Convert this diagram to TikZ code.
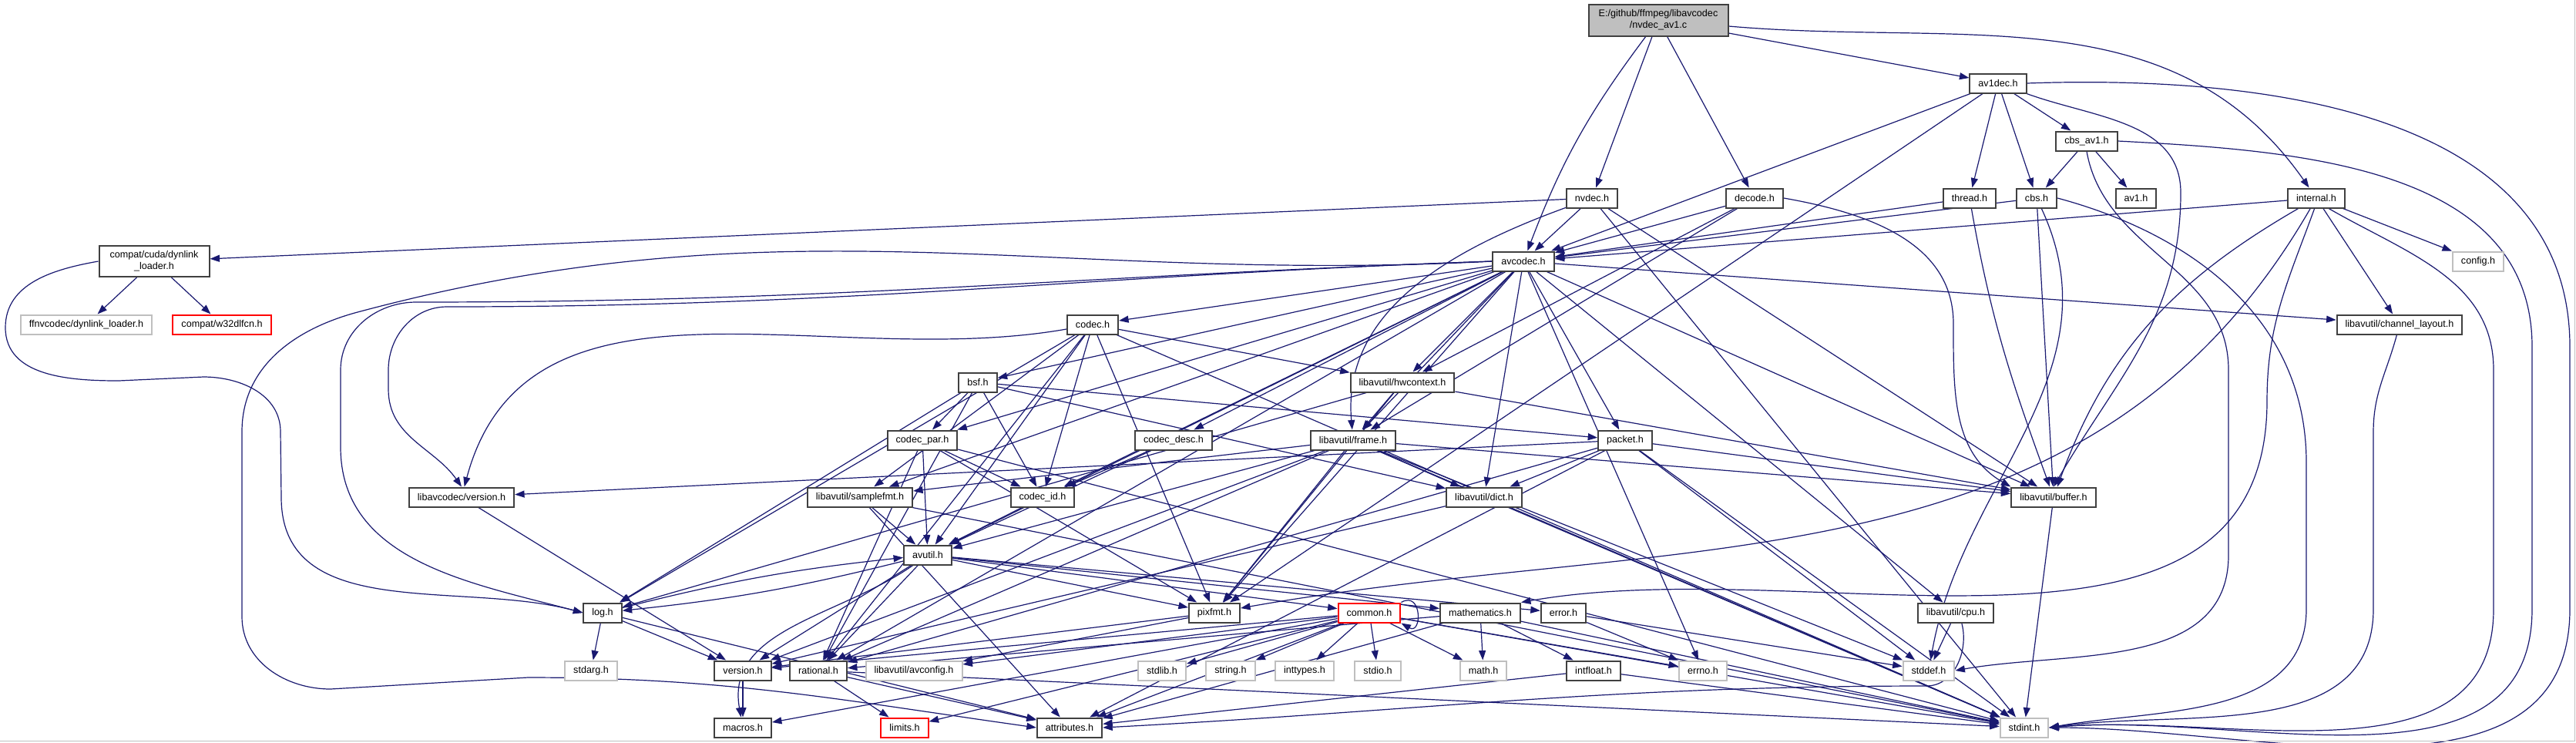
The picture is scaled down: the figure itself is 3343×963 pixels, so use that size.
\documentclass[tikz,border=0pt]{standalone}
\usepackage{fontspec}
\setmainfont{Liberation Sans}
\usetikzlibrary{arrows.meta}
\definecolor{edgeblue}{HTML}{191970}
\definecolor{nodegray}{HTML}{BFBFBF}
\definecolor{nodeframe}{HTML}{404040}
\pgfdeclarelayer{edgelayer}
\pgfsetlayers{edgelayer,main}
\tikzset{
    incfile/.style={rectangle,draw=nodeframe,line width=0.4pt,fill=white,align=center,minimum height=5pt,inner xsep=2.2pt,inner ysep=0pt,font=\fontsize{2.52}{3}\selectfont},
    sysfile/.style={incfile,draw=nodegray},
    redfile/.style={incfile,draw=red},
    srcfile/.style={incfile,fill=nodegray,minimum height=8.2pt},
    incline/.style={-{Triangle[length=2.5pt,width=1.8pt]},color=edgeblue,line width=0.24pt}
}
\begin{document}
\begin{tikzpicture}[x=0.2pt,y=-0.2pt]
    \useasboundingbox (0,0) rectangle (3343,963);
    \draw[nodegray,line width=0.3pt] (0,961.5) -- (3341.5,961.5) -- (3341.5,0);
    % top part
    \node[srcfile,minimum width=36.2pt] (main) at (2152,26) {E:/github/ffmpeg/libavcodec\\/nvdec\_av1.c};
    \node[incfile] (av1dec) at (2593,108) {av1dec.h};
    \node[incfile] (cbsav1) at (2708,183) {cbs\_av1.h};
    \node[incfile] (nvdec) at (2066,257) {nvdec.h};
    \node[incfile] (decode) at (2277,257) {decode.h};
    \node[incfile] (thread) at (2556,257) {thread.h};
    \node[incfile] (cbs) at (2643,257) {cbs.h};
    \node[incfile] (avone) at (2772,257) {av1.h};
    \node[incfile] (internal) at (3006,257) {internal.h};
    \node[incfile,minimum width=28.6pt,minimum height=8pt] (dynlink) at (200,339) {compat/cuda/dynlink\\\_loader.h};
    \node[incfile] (avcodec) at (1977,339) {avcodec.h};
    \node[sysfile] (config) at (3216,339) {config.h};
    \node[sysfile] (ffnv) at (112,421) {ffnvcodec/dynlink\_loader.h};
    \node[redfile] (w32) at (288,421) {compat/w32dlfcn.h};
    \node[incfile] (codec) at (1418,421) {codec.h};
    \node[incfile] (chlayout) at (3114,421) {libavutil/channel\_layout.h};
    % middle part
    \node[incfile] (bsf) at (1269,496) {bsf.h};
    \node[incfile] (hwctx) at (1820,496) {libavutil/hwcontext.h};
    \node[incfile] (codecpar) at (1197,571) {codec\_par.h};
    \node[incfile] (codecdesc) at (1523,571) {codec\_desc.h};
    \node[incfile] (frame) at (1756,571) {libavutil/frame.h};
    \node[incfile] (packet) at (2109,571) {packet.h};
    \node[incfile] (lavcversion) at (599,645) {libavcodec/version.h};
    \node[incfile] (samplefmt) at (1116,645) {libavutil/samplefmt.h};
    \node[incfile] (codecid) at (1353,645) {codec\_id.h};
    \node[incfile] (dict) at (1926,645) {libavutil/dict.h};
    \node[incfile] (buffer) at (2665,645) {libavutil/buffer.h};
    \node[incfile] (avutil) at (1204,720) {avutil.h};
    \node[incfile] (log) at (782,795) {log.h};
    \node[incfile] (pixfmt) at (1576,795) {pixfmt.h};
    \node[redfile] (common) at (1777,795) {common.h};
    \node[incfile] (mathematics) at (1921,795) {mathematics.h};
    \node[incfile] (error) at (2029,795) {error.h};
    \node[incfile] (cpu) at (2538,795) {libavutil/cpu.h};
    % bottom part
    \node[sysfile] (stdarg) at (767,870) {stdarg.h};
    \node[incfile] (version) at (964,870) {version.h};
    \node[incfile] (rational) at (1062,870) {rational.h};
    \node[sysfile] (avconfig) at (1186,870) {libavutil/avconfig.h};
    \node[sysfile] (stdlib) at (1508,870) {stdlib.h};
    \node[sysfile] (string) at (1597,870) {string.h};
    \node[sysfile] (inttypes) at (1693,870) {inttypes.h};
    \node[sysfile] (stdio) at (1788,870) {stdio.h};
    \node[sysfile] (math) at (1925,870) {math.h};
    \node[incfile] (intfloat) at (2068,870) {intfloat.h};
    \node[sysfile] (errno) at (2210,870) {errno.h};
    \node[sysfile] (stddef) at (2503,870) {stddef.h};
    \node[incfile] (macros) at (964,944) {macros.h};
    \node[redfile] (limits) at (1174,944) {limits.h};
    \node[incfile] (attributes) at (1388,944) {attributes.h};
    \node[sysfile] (stdint) at (2627,944) {stdint.h};

    \begin{pgfonlayer}{edgelayer}
    % includes of the top files
    \path[incline] (main) edge[bend right=8] (avcodec) edge (nvdec) edge (decode) edge (av1dec) edge[out=-5,in=125] (internal);
    \path[incline] (av1dec) edge (avcodec) edge (pixfmt) edge (thread) edge (cbs) edge (cbsav1);
    \draw[incline] (av1dec.-20) to[out=-20,in=90] (2830,250) to[out=-90,in=60] (buffer.north);
    \draw[incline] (av1dec.east) to[out=2,in=90] (3335,450) -- (3335,790) to[out=-90,in=0] (stdint.east);
    \path[incline] (cbsav1) edge (cbs) edge (avone);
    \draw[incline] (cbsav1.south) to[out=-80,in=90] (2892,480) -- (2892,720) to[out=-90,in=10] (stddef.east);
    \draw[incline] (cbsav1.east) to[out=-3,in=90] (3286,450) -- (3286,790) to[out=-90,in=5] (stdint.east);
    \path[incline] (cbs) edge (avcodec) edge (buffer) edge[out=-65,in=80] (stddef);
    \draw[incline] (cbs.east) to[out=-15,in=90] (2993,600) -- (2993,790) to[out=-90,in=10] (stdint.east);
    \path[incline] (thread) edge (avcodec) edge[out=-80,in=110] (buffer);
    \path[incline] (decode) edge (avcodec) edge (frame) edge (hwctx);
    \draw[incline] (decode.east) to[out=-10,in=90] (2535,420) to[out=-90,in=150] (buffer.north west);
    \path[incline] (nvdec) edge (dynlink) edge (avcodec) edge[out=200,in=95] (frame) edge (buffer) edge (stdint);
    \path[incline] (internal) edge (avcodec) edge (config) edge (chlayout) edge[out=-150,in=70] (buffer) edge[out=-120,in=10] (pixfmt);
    \draw[incline] (internal.-100) to[out=-110,in=90] (2942,520) to[out=-90,in=10] (mathematics.north east);
    \draw[incline] (internal.-40) to[out=-30,in=90] (3236,480) -- (3236,790) to[out=-90,in=5] (stdint.east);
    \path[incline] (dynlink) edge (ffnv) edge (w32);
    \draw[incline] (dynlink.west) to[out=190,in=90] (7,425) to[out=-90,in=180] (154,494) -- (264,489) to[out=0,in=90] (364,560) -- (365,645) to[out=-90,in=165] (log.west);
    % avcodec.h
    \path[incline] (avcodec) edge (codec) edge (bsf) edge (codecpar) edge (codecdesc) edge (codecid) edge (samplefmt) edge (avutil) edge (hwctx) edge (frame) edge (packet) edge (dict) edge (buffer) edge (chlayout) edge (cpu) edge (errno) edge (pixfmt) edge (rational);
    \draw[incline] (avcodec.west) to[out=182,in=0] (540,392) to[out=180,in=90] (442,480) -- (442,580) to[out=-90,in=165] (log.west);
    \draw[incline] (avcodec.west) to[out=182,in=0] (580,398) to[out=180,in=90] (504,480) -- (504,505) to[out=-90,in=125] (lavcversion.north);
    \draw[incline] (avcodec.west) to[out=183,in=15] (464,405) to[out=195,in=90] (314,560) -- (314,800) to[out=-90,in=180] (429,894) -- (685,879) to[out=0,in=172] (attributes.west);
    % libavcodec headers
    \path[incline] (codec) edge (stdint) edge (avutil) edge (hwctx) edge (log) edge (pixfmt) edge (rational) edge (samplefmt) edge (codecid) edge[out=190,in=75] (lavcversion);
    \path[incline] (bsf) edge (dict) edge (log) edge (rational) edge (codecid) edge (codecpar) edge (packet);
    \path[incline] (codecpar) edge (stdint) edge (avutil) edge (rational) edge (pixfmt) edge (codecid);
    \path[incline] (codecdesc) edge (avutil) edge (codecid);
    \path[incline] (codecid) edge (avutil);
    \path[incline] (packet) edge (stddef) edge (stdint) edge (attributes) edge (buffer) edge (dict) edge (rational) edge (lavcversion);
    \path[incline] (lavcversion) edge (version);
    % libavutil headers
    \path[incline] (hwctx) edge (buffer) edge (frame) edge (log) edge (pixfmt);
    \path[incline] (frame) edge (stddef) edge (stdint) edge (avutil) edge (buffer) edge (dict) edge (rational) edge (samplefmt) edge (pixfmt) edge (version);
    \path[incline] (samplefmt) edge (stdint) edge (avutil) edge (attributes);
    \path[incline] (dict) edge (stdint) edge (version);
    \path[incline] (buffer) edge (stdint);
    \path[incline] (avutil) edge (common) edge (error) edge (rational) edge (version) edge[out=-145,in=100] (macros) edge (mathematics) edge[bend left=4] (log) edge (pixfmt);
    \path[incline] (log) edge (stdarg) edge[bend left=4] (avutil) edge (attributes) edge (version);
    \path[incline] (pixfmt) edge (avconfig) edge (version);
    \path[incline] (common) edge (errno) edge (inttypes) edge (limits) edge (math) edge (stdint) edge (stdio) edge (stdlib) edge (string) edge (attributes) edge (macros) edge (version) edge (avconfig);
    \draw[incline] (common.north east) to[out=30,in=-30,looseness=3] (common.south east);
    \path[incline] (mathematics) edge (stdint) edge (math) edge (attributes) edge (rational) edge (intfloat);
    \path[incline] (error) edge (errno) edge (stddef);
    \path[incline] (rational) edge (stdint) edge (limits) edge (attributes);
    \path[incline] (intfloat) edge (stdint) edge (attributes);
    \path[incline] (version) edge (macros);
    \path[incline] (cpu) edge (stddef);
    \draw[incline] (cpu.-60) to[out=-75,in=0] (2500,890) to[out=180,in=3] (attributes.east);
    \draw[incline] (chlayout) to[out=-105,in=90] (3080,560) -- (3080,790) to[out=-90,in=8] (stdint.east);
    \end{pgfonlayer}
\end{tikzpicture}
\end{document}
